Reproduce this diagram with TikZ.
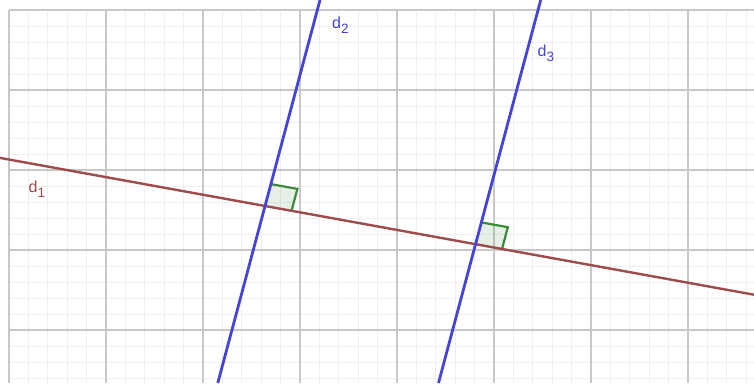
\documentclass[tikz,border=0pt]{standalone}
\usepackage{fontspec}
\setmainfont{Liberation Sans}
\definecolor{gminor}{HTML}{EFEFEF}
\definecolor{gmajor}{HTML}{C8C8C8}
\definecolor{dred}{HTML}{9E4B4B}
\definecolor{dblue}{HTML}{4444D8}
\definecolor{agreen}{HTML}{3A8A3A}
\newcommand{\lbl}[1]{\fontsize{16}{16}\selectfont d\raisebox{-5pt}{\fontsize{13.5}{13.5}\selectfont #1}}
\begin{document}
\begin{tikzpicture}[x=1pt,y=-1pt,
  minorline/.style={gminor,line width=0.8pt},
  majorline/.style={gmajor,line width=1.2pt},
  dredline/.style={dred,line width=2.4pt},
  dblueline/.style={dblue,line width=2.8pt},
  anglefill/.style={fill=agreen,fill opacity=0.12},
  angleedge/.style={agreen,line width=2.2pt,line join=miter},
  lblstyle/.style={inner sep=0pt,anchor=base west}]
\useasboundingbox (0,0) rectangle (754,383);
\fill[white] (0,0) rectangle (754,383);
\clip (0,0) rectangle (754,383);
% grid
\foreach \k in {0,...,38} \draw[minorline] ({9+19.4*\k},10) -- ({9+19.4*\k},383);
\foreach \k in {0,...,23} \draw[minorline] (9,{10+16*\k}) -- (754,{10+16*\k});
\foreach \k in {0,...,7} \draw[majorline] ({9+97*\k},10) -- ({9+97*\k},383);
\foreach \k in {0,...,4} \draw[majorline] (9,{10+80*\k}) -- (754,{10+80*\k});
% points
\coordinate (P) at (265,206);
\coordinate (Q) at (475.5,244.3);
\coordinate (d1a) at (0,157.9);
\coordinate (d1b) at (754,294.7);
\coordinate (d2a) at (217.8,383);
\coordinate (d2b) at (320.0,0);
\coordinate (d3a) at (438.5,383);
\coordinate (d3b) at (540.7,0);
% right angle marks
\coordinate (Pa) at (291.5,210.8);
\coordinate (Pc) at (297.4,188.9);
\coordinate (Pb) at (270.8,184.1);
\coordinate (Qa) at (502.0,249.1);
\coordinate (Qc) at (507.8,227.2);
\coordinate (Qb) at (481.3,222.4);
\fill[anglefill] (P) -- (Pa) -- (Pc) -- (Pb) -- cycle;
\fill[anglefill] (Q) -- (Qa) -- (Qc) -- (Qb) -- cycle;
\draw[angleedge] (Pb) -- (Pc) -- (Pa);
\draw[angleedge] (Qb) -- (Qc) -- (Qa);
% lines
\draw[dredline] (d1a) -- (d1b);
\draw[dblueline] (d2a) -- (d2b);
\draw[dblueline] (d3a) -- (d3b);
% labels
\node[lblstyle,text=dred] (l1) at (28.5,192) {\lbl{1}};
\node[lblstyle,text=dblue] (l2) at (332,28) {\lbl{2}};
\node[lblstyle,text=dblue] (l3) at (537.5,56) {\lbl{3}};
\end{tikzpicture}
\end{document}
